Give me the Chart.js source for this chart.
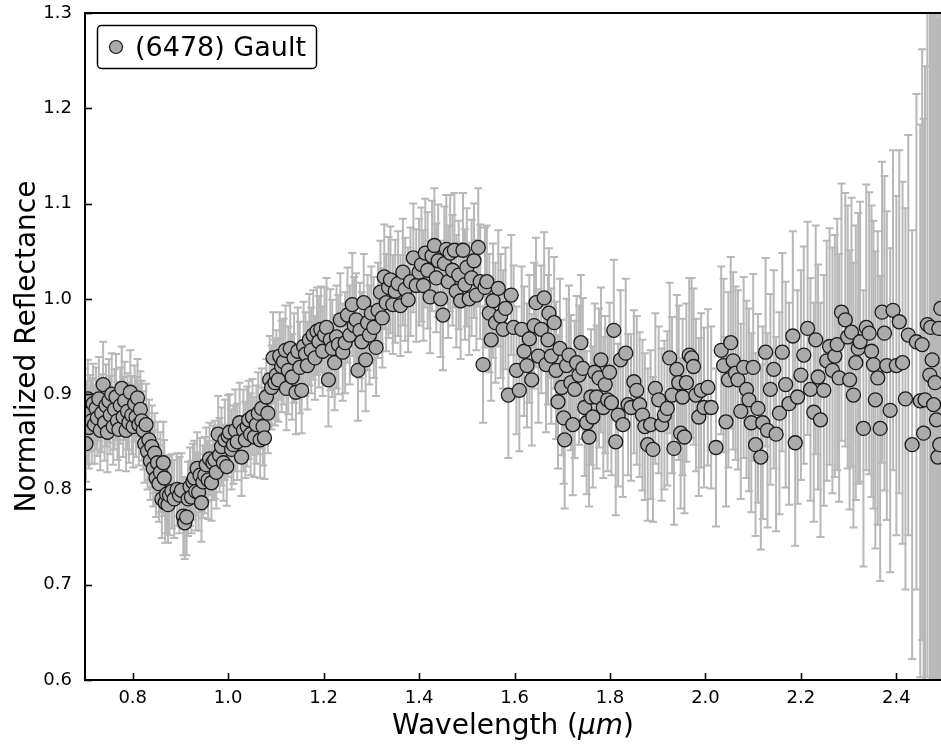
<!DOCTYPE html>
<html>
<head>
<meta charset="utf-8">
<script src="https://cdn.jsdelivr.net/npm/chart.js@4.4.1/dist/chart.umd.min.js"></script>
<style>
  html, body { margin: 0; padding: 0; background: #fff; }
  #chart { display: block; }
</style>
</head>
<body>
<canvas id="chart" width="941" height="746"></canvas>
<script>
// spectrum of (6478) Gault
var wavelength = [
  0.700,0.702,0.704,0.706,0.708,0.711,0.714,0.717,0.720,0.723,
  0.726,0.729,0.732,0.735,0.738,0.741,0.744,0.747,0.750,0.753,
  0.756,0.759,0.762,0.765,0.768,0.771,0.774,0.777,0.780,0.783,
  0.786,0.789,0.792,0.795,0.798,0.801,0.804,0.807,0.810,0.813,
  0.816,0.819,0.822,
  0.825,0.828,0.831,0.834,0.837,0.840,0.843,0.846,0.849,0.852,
  0.855,0.858,0.861,0.864,0.866,0.868,0.871,0.874,0.877,
  0.882,0.887,0.893,0.898,0.902,0.906,0.909,0.913,0.916,0.920,
  0.923,0.926,0.929,0.932,0.935,0.938,0.941,0.944,0.947,0.951,
  0.954,0.958,0.961,0.965,0.968,0.972,0.975,0.979,0.982,0.986,
  0.990,0.993,0.997,1.000,1.003,1.007,1.011,1.015,1.019,1.024,
  1.028,1.032,1.036,1.040,1.043,1.047,1.051,1.055,1.059,1.063,
  1.067,1.070,1.073,1.076,1.080,1.083,
  1.087,1.091,1.094,1.098,1.101,1.105,1.108,1.112,1.116,1.120,
  1.122,1.126,1.130,1.134,1.138,1.142,1.146,1.150,1.154,1.158,
  1.162,1.166,1.170,1.174,1.178,1.182,1.186,1.190,1.194,1.198,
  1.202,1.206,1.210,1.214,1.218,1.223,1.227,1.231,1.235,1.240,
  1.245,1.250,1.255,1.260,1.264,1.268,1.272,1.276,1.280,1.284,
  1.288,1.292,1.296,1.300,1.305,1.310,1.314,1.319,1.323,1.327,
  1.331,1.336,1.340,1.345,1.350,1.356,1.361,1.366,1.371,1.377,
  1.382,
  1.388,1.394,1.400,1.405,1.409,1.413,1.418,1.423,1.427,1.432,
  1.436,1.440,1.445,1.450,1.453,1.457,1.461,1.465,1.470,1.474,
  1.478,1.483,1.487,1.492,1.496,1.500,1.505,1.510,1.515,1.520,
  1.524,1.528,1.534,1.538,1.542,1.547,1.551,1.555,1.560,1.566,
  1.571,1.576,1.581,1.587,1.593,1.598,1.604,1.610,1.615,1.620,
  1.626,1.631,1.636,1.641,1.645,1.650,1.656,1.662,1.666,1.670,
  1.672,1.677,1.683,1.687,1.691,1.695,1.699,1.703,1.705,1.709,
  1.714,1.718,1.722,1.726,1.730,1.735,1.739,1.743,1.747,1.751,
  1.756,1.760,1.764,1.768,1.772,1.777,1.781,1.786,1.790,1.795,
  1.799,1.803,1.808,1.812,1.817,1.822,1.827,1.833,1.838,1.844,
  1.850,1.856,1.862,1.868,1.873,1.879,1.885,1.890,1.895,1.902,
  1.908,1.914,1.920,1.925,1.930,1.934,1.940,1.944,1.948,1.952,
  1.956,1.960,1.966,1.971,1.975,1.980,1.986,1.991,1.997,2.005,
  2.012,2.022,
  2.033,2.038,2.043,2.048,2.053,2.058,2.063,2.068,2.074,2.080,
  2.086,2.091,2.096,2.100,2.105,2.110,2.116,2.120,2.126,2.130,
  2.136,2.143,2.148,2.155,2.161,2.168,2.175,2.183,2.188,2.193,
  2.200,2.206,2.214,2.220,2.227,2.231,2.236,2.241,2.248,2.254,
  2.260,2.266,2.271,2.276,2.280,2.285,2.293,2.298,2.302,2.306,
  2.310,2.315,2.320,2.324,2.331,2.337,2.343,2.348,2.352,2.356,
  2.361,2.366,2.370,2.375,2.380,2.387,2.393,2.400,
  2.406,2.413,2.419,2.425,2.433,2.442,2.450,2.454,2.457,2.460,
  2.465,2.470,2.472,2.475,2.478,2.481,2.484,2.487,2.489,2.491,
  2.493
];

var reflectance = [
  0.885,0.848,0.870,0.895,0.865,0.880,0.872,0.890,0.868,0.885,
  0.875,0.895,0.862,0.880,0.910,0.870,0.888,0.860,0.893,0.878,
  0.900,0.866,0.884,0.897,0.872,0.863,0.888,0.906,0.876,0.893,
  0.862,0.882,0.870,0.902,0.878,0.866,0.890,0.876,0.896,0.868,
  0.884,0.872,0.862,
  0.848,0.868,0.840,0.852,0.830,0.845,0.822,0.838,0.812,0.828,
  0.806,0.818,0.790,0.828,0.812,0.786,0.795,0.784,0.794,
  0.798,0.790,0.800,0.794,0.799,0.772,0.765,0.771,0.790,0.803,
  0.792,0.808,0.812,0.798,0.822,0.797,0.815,0.786,0.808,0.815,
  0.826,0.810,0.832,0.807,0.828,0.831,0.818,0.858,0.836,0.845,
  0.828,0.852,0.824,0.856,0.860,0.842,0.847,0.862,0.850,0.870,
  0.834,0.862,0.852,0.866,0.873,0.858,0.876,0.855,0.868,0.880,
  0.852,0.885,0.866,0.854,0.897,0.880,
  0.915,0.907,0.938,0.912,0.920,0.915,0.940,0.929,0.934,0.946,
  0.906,0.925,0.948,0.918,0.938,0.902,0.945,0.928,0.904,0.950,
  0.942,0.930,0.957,0.946,0.962,0.938,0.966,0.955,0.968,0.945,
  0.962,0.970,0.915,0.957,0.948,0.933,0.960,0.952,0.978,0.944,
  0.954,0.983,0.962,0.994,0.972,0.978,0.925,0.967,0.955,0.996,
  0.936,0.975,0.962,0.985,0.970,0.949,0.988,1.007,0.980,1.023,
  0.996,1.012,1.020,0.994,1.008,1.016,0.993,1.028,1.010,0.999,
  1.018,
  1.043,1.014,1.028,1.036,1.014,1.048,1.030,1.002,1.045,1.056,
  1.022,1.040,1.000,0.983,1.037,1.052,1.018,1.048,1.030,1.051,
  1.008,1.025,0.998,1.051,1.015,1.033,1.000,1.022,1.040,1.004,
  1.054,1.018,0.931,1.012,1.018,0.985,0.957,0.998,0.975,1.011,
  0.982,0.968,0.990,0.899,1.004,0.970,0.925,0.904,0.968,0.945,
  0.930,0.958,0.915,0.972,0.996,0.940,0.968,1.001,0.931,0.957,
  0.985,0.940,0.975,0.925,0.892,0.948,0.907,0.875,0.852,0.930,
  0.941,0.912,0.868,0.905,0.933,0.920,0.954,0.927,0.886,0.870,
  0.855,0.897,0.876,0.923,0.897,0.917,0.936,0.886,0.910,0.894,
  0.923,0.891,0.967,0.850,0.878,0.936,0.868,0.943,0.889,0.886,
  0.913,0.904,0.889,0.878,0.866,0.847,0.868,0.842,0.906,0.894,
  0.868,0.878,0.885,0.938,0.899,0.843,0.926,0.912,0.859,0.897,
  0.855,0.912,0.941,0.938,0.929,0.899,0.876,0.904,0.886,0.907,
  0.886,0.844,
  0.946,0.930,0.871,0.915,0.954,0.935,0.922,0.915,0.882,0.928,
  0.905,0.894,0.870,0.928,0.847,0.885,0.834,0.870,0.944,0.862,
  0.905,0.926,0.858,0.880,0.944,0.910,0.890,0.961,0.849,0.897,
  0.920,0.941,0.969,0.905,0.881,0.957,0.918,0.873,0.904,0.935,
  0.950,0.925,0.940,0.952,0.917,0.986,0.978,0.960,0.915,0.965,
  0.899,0.933,0.948,0.955,0.864,0.970,0.964,0.945,0.931,0.894,
  0.917,0.864,0.986,0.964,0.930,0.883,0.988,0.930,
  0.976,0.933,0.895,0.962,0.847,0.955,0.893,0.952,0.859,0.894,
  0.973,0.920,0.970,0.936,0.889,0.912,0.873,0.834,0.969,0.847,
  0.990
];

var reflErr = [
  0.042,0.040,0.044,0.041,0.043,0.040,0.045,0.042,0.041,0.043,
  0.040,0.044,0.042,0.041,0.045,0.040,0.043,0.042,0.044,0.041,
  0.043,0.040,0.042,0.045,0.041,0.043,0.040,0.044,0.042,0.041,
  0.043,0.040,0.042,0.044,0.041,0.043,0.040,0.042,0.041,0.043,
  0.040,0.042,0.041,
  0.041,0.043,0.040,0.042,0.041,0.043,0.040,0.042,0.041,0.043,
  0.040,0.042,0.041,0.043,0.040,0.042,0.041,0.040,0.042,
  0.039,0.041,0.038,0.040,0.039,0.041,0.038,0.040,0.039,0.041,
  0.038,0.040,0.039,0.041,0.038,0.040,0.039,0.041,0.038,0.040,
  0.039,0.041,0.038,0.040,0.039,0.041,0.038,0.040,0.039,0.041,
  0.040,0.042,0.041,0.043,0.040,0.042,0.041,0.043,0.040,0.042,
  0.041,0.043,0.040,0.042,0.041,0.043,0.040,0.042,0.041,0.043,
  0.040,0.042,0.041,0.043,0.040,0.042,
  0.046,0.044,0.048,0.045,0.047,0.044,0.046,0.048,0.045,0.047,
  0.044,0.046,0.048,0.045,0.047,0.044,0.046,0.048,0.045,0.047,
  0.044,0.046,0.048,0.045,0.047,0.044,0.046,0.048,0.045,0.047,
  0.050,0.052,0.049,0.053,0.051,0.050,0.054,0.052,0.049,0.051,
  0.053,0.050,0.052,0.054,0.051,0.049,0.053,0.050,0.052,0.051,
  0.054,0.050,0.052,0.049,0.053,0.051,0.050,0.054,0.052,0.055,
  0.051,0.053,0.056,0.052,0.054,0.055,0.053,0.056,0.054,0.055,
  0.057,
  0.057,0.059,0.056,0.060,0.058,0.057,0.061,0.059,0.058,0.060,
  0.057,0.059,0.061,0.058,0.060,0.057,0.059,0.061,0.058,0.060,
  0.059,0.057,0.061,0.060,0.058,0.062,0.059,0.061,0.060,0.058,
  0.062,0.060,0.061,0.063,0.059,0.062,0.064,0.060,0.063,0.061,
  0.065,0.062,0.064,0.066,0.063,0.065,0.067,0.064,0.066,0.068,
  0.065,0.067,0.069,0.066,0.068,0.070,0.067,0.069,0.071,0.068,
  0.068,0.071,0.069,0.072,0.070,0.073,0.071,0.069,0.072,0.070,
  0.073,0.071,0.074,0.072,0.070,0.073,0.071,0.074,0.072,0.075,
  0.073,0.071,0.074,0.072,0.075,0.073,0.076,0.074,0.072,0.075,
  0.073,0.076,0.074,0.077,0.075,0.073,0.076,0.078,0.074,0.077,
  0.075,0.078,0.076,0.079,0.077,0.080,0.078,0.076,0.079,0.077,
  0.080,0.078,0.081,0.079,0.082,0.080,0.078,0.081,0.079,0.082,
  0.080,0.083,0.081,0.084,0.082,0.080,0.083,0.081,0.084,0.082,
  0.085,0.083,
  0.088,0.091,0.089,0.092,0.090,0.093,0.091,0.094,0.092,0.095,
  0.093,0.096,0.094,0.098,0.096,0.099,0.097,0.101,0.099,0.102,
  0.100,0.104,0.102,0.106,0.104,0.108,0.106,0.110,0.108,0.112,
  0.110,0.114,0.112,0.117,0.115,0.120,0.118,0.123,0.121,0.126,
  0.124,0.129,0.127,0.132,0.130,0.135,0.133,0.138,0.136,0.141,
  0.139,0.144,0.142,0.147,0.145,0.150,0.148,0.153,0.151,0.156,
  0.154,0.160,0.158,0.165,0.162,0.170,0.168,0.178,
  0.180,0.190,0.200,0.210,0.225,0.260,0.290,0.310,0.330,0.350,
  0.370,0.390,0.410,0.430,0.410,0.450,0.430,0.460,0.440,0.470,
  0.450
];

var xTicks = [0.8, 1.0, 1.2, 1.4, 1.6, 1.8, 2.0, 2.2, 2.4];
var yTicks = [0.6, 0.7, 0.8, 0.9, 1.0, 1.1, 1.2, 1.3];
var seriesName = '(6478) Gault';

var FONT = "'DejaVu Sans', sans-serif";
var markerFill = '#ababab';
var markerEdge = '#1a1a1a';
var barColor = '#b8b8b8';

// error bars go under the markers
var errorBars = {
    id: 'errorBars',
    beforeDatasetsDraw: function(chart) {
        var ctx = chart.ctx, xs = chart.scales.x, ys = chart.scales.y, a = chart.chartArea;
        ctx.save();
        ctx.beginPath();
        ctx.rect(a.left, a.top, a.right - a.left, a.bottom - a.top);
        ctx.clip();
        ctx.strokeStyle = barColor;
        ctx.lineWidth = 2;
        for (var i = 0; i < wavelength.length; i++) {
            var px = xs.getPixelForValue(wavelength[i]);
            var top = ys.getPixelForValue(reflectance[i] + reflErr[i]);
            var bot = ys.getPixelForValue(reflectance[i] - reflErr[i]);
            ctx.beginPath();
            ctx.moveTo(px, top); ctx.lineTo(px, bot);
            ctx.moveTo(px - 4, top); ctx.lineTo(px + 4, top);
            ctx.moveTo(px - 4, bot); ctx.lineTo(px + 4, bot);
            ctx.stroke();
        }
        ctx.restore();
    }
};

// spines, inward ticks, axis titles and the boxed legend
var frame = {
    id: 'frame',
    afterDraw: function(chart) {
        var ctx = chart.ctx, a = chart.chartArea, xs = chart.scales.x, ys = chart.scales.y;
        ctx.save();
        ctx.strokeStyle = '#000';
        ctx.lineWidth = 1.6;
        xs.ticks.forEach(function(t) {
            var p = Math.round(xs.getPixelForValue(t.value)) + 0.5;
            ctx.beginPath(); ctx.moveTo(p, a.bottom); ctx.lineTo(p, a.bottom - 7); ctx.stroke();
        });
        ys.ticks.forEach(function(t) {
            var p = Math.round(ys.getPixelForValue(t.value)) + 0.5;
            ctx.beginPath(); ctx.moveTo(a.left, p); ctx.lineTo(a.left + 7, p); ctx.stroke();
        });

        ctx.lineWidth = 2;
        ctx.beginPath();
        ctx.moveTo(a.right + 2, a.top);
        ctx.lineTo(a.left, a.top);
        ctx.lineTo(a.left, a.bottom);
        ctx.lineTo(a.right + 2, a.bottom);
        ctx.stroke();

        // y title
        ctx.fillStyle = '#000';
        ctx.font = '28px ' + FONT;
        ctx.textAlign = 'center';
        ctx.textBaseline = 'alphabetic';
        ctx.save();
        ctx.translate(35, (a.top + a.bottom) / 2);
        ctx.rotate(-Math.PI / 2);
        ctx.fillText('Normalized Reflectance', 0, 0);
        ctx.restore();

        // x title, with the unit in italics like mathtext
        var parts = [['Wavelength (', '28px ' + FONT], ['\u03bcm', 'italic 28px ' + FONT], [')', '28px ' + FONT]];
        var total = 0;
        parts.forEach(function(p) { ctx.font = p[1]; total += ctx.measureText(p[0]).width; });
        var x = (a.left + a.right) / 2 - total / 2;
        ctx.textAlign = 'left';
        parts.forEach(function(p) {
            ctx.font = p[1];
            ctx.fillText(p[0], x, 734);
            x += ctx.measureText(p[0]).width;
        });

        // legend
        ctx.fillStyle = '#fff';
        ctx.strokeStyle = '#000';
        ctx.lineWidth = 1.5;
        ctx.beginPath();
        ctx.roundRect(97.5, 25.5, 219, 43, 4);
        ctx.fill();
        ctx.stroke();
        ctx.beginPath();
        ctx.arc(116, 47, 6.5, 0, Math.PI * 2);
        ctx.fillStyle = markerFill;
        ctx.fill();
        ctx.strokeStyle = markerEdge;
        ctx.lineWidth = 1.2;
        ctx.stroke();
        ctx.fillStyle = '#000';
        ctx.font = '27px ' + FONT;
        ctx.textBaseline = 'alphabetic';
        ctx.fillText(seriesName, 135, 56);
        ctx.restore();
    }
};

function noPad(s) {
    s.paddingTop = 0; s.paddingBottom = 0; s.paddingLeft = 0; s.paddingRight = 0;
}

var points = wavelength.map(function(w, i) { return { x: w, y: reflectance[i] }; });

new Chart(document.getElementById('chart').getContext('2d'), {
    type: 'scatter',
    data: {
        datasets: [{
            label: seriesName,
            data: points,
            pointRadius: 7,
            pointHoverRadius: 7,
            backgroundColor: markerFill,
            borderColor: markerEdge,
            borderWidth: 1.3,
            clip: 0
        }]
    },
    options: {
        responsive: false,
        animation: false,
        devicePixelRatio: 1,
        layout: { autoPadding: false, padding: { top: 13, right: 0, bottom: 0, left: 0 } },
        plugins: {
            legend: { display: false },
            tooltip: { enabled: false }
        },
        scales: {
            x: {
                type: 'linear',
                min: 0.7,
                max: 2.4935,
                afterBuildTicks: function(s) { s.ticks = xTicks.map(function(v) { return { value: v }; }); },
                afterFit: function(s) { s.height = 66; noPad(s); },
                grid: { display: false, drawTicks: false },
                border: { display: false },
                ticks: {
                    padding: 8,
                    color: '#000',
                    font: { family: FONT, size: 18 },
                    maxRotation: 0,
                    callback: function(v) { return Number(v).toFixed(1); }
                }
            },
            y: {
                min: 0.6,
                max: 1.3,
                afterBuildTicks: function(s) { s.ticks = yTicks.map(function(v) { return { value: v }; }); },
                afterFit: function(s) { s.width = 85; noPad(s); },
                grid: { display: false, drawTicks: false },
                border: { display: false },
                ticks: {
                    padding: 13,
                    color: '#000',
                    font: { family: FONT, size: 18 },
                    callback: function(v) { return Number(v).toFixed(1); }
                }
            }
        }
    },
    plugins: [errorBars, frame]
});
</script>
</body>
</html>
